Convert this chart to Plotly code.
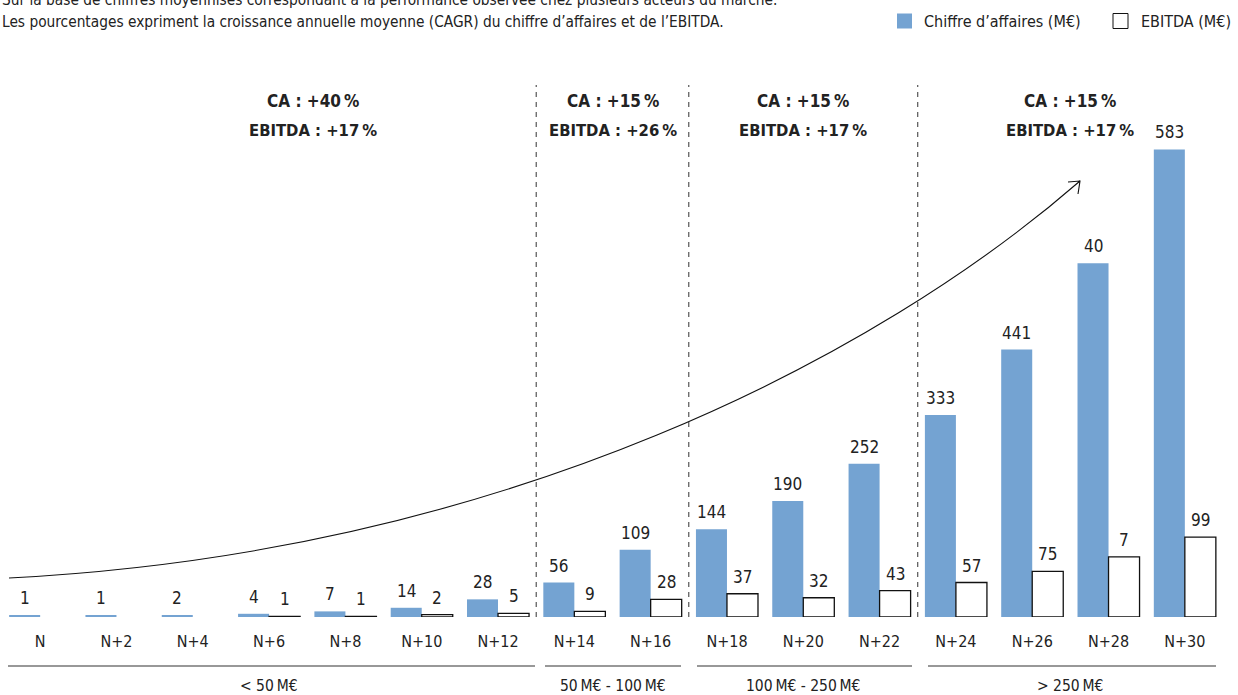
import plotly.graph_objects as go

# ---------------- data ----------------
categories = ["N", "N+2", "N+4", "N+6", "N+8", "N+10", "N+12", "N+14",
              "N+16", "N+18", "N+20", "N+22", "N+24", "N+26", "N+28", "N+30"]
ca_values = [2, 2, 2, 4, 7, 11.5, 22, 43, 84, 109.5, 144.5, 191, 252, 333.5, 441, 583]
ebitda_values = [None, None, None, 0.7, 0.7, 3, 4.5, 7, 22, 29, 24, 33, 43, 57, 75, 99.5]
ca_labels = ["1", "1", "2", "4", "7", "14", "28", "56", "109", "144", "190",
             "252", "333", "441", "40", "583"]
ebitda_labels = ["", "", "", "1", "1", "2", "5", "9", "28", "37", "32",
                 "43", "57", "75", "7", "99"]

series_names = ["Chiffre d’affaires (M€)", "EBITDA (M€)"]

segments = ["< 50\u202fM€", "50\u202fM€ - 100\u202fM€", "100\u202fM€ - 250\u202fM€", "> 250\u202fM€"]
segment_first = [0, 7, 9, 12]
segment_last = [6, 8, 11, 15]
cagr_ca = ["+40\u202f%", "+15\u202f%", "+15\u202f%", "+15\u202f%"]
cagr_ebitda = ["+17\u202f%", "+26\u202f%", "+17\u202f%", "+17\u202f%"]

subtitle_1 = ("Sur la base de chiffres moyennisés correspondant à la performance "
              "observée chez plusieurs acteurs du marché.")
subtitle_2 = ("Les pourcentages expriment la croissance annuelle moyenne (CAGR) "
              "du chiffre d’affaires et de l’EBITDA.")

# ---------------- style ----------------
W, H = 1238, 695
ML, MR, MT, MB = 2, 15, 40, 78
PW, PH = W - ML - MR, H - MT - MB
YMAX = 719.5
FONT = "DejaVu Sans Condensed, DejaVu Sans, sans-serif"
BLUE = "#74A3D2"
TXT = "#222222"
EDGE = "#111111"


def px_x(px):
    return (px - ML) / PW


def px_y(py):
    return (H - MB - py) / PH


fig = go.Figure()
fig.add_trace(go.Bar(
    name=series_names[0], x=categories, y=ca_values,
    marker=dict(color=BLUE, line=dict(width=0)),
))
fig.add_trace(go.Bar(
    name=series_names[1], x=categories, y=ebitda_values,
    marker=dict(color="white", line=dict(color=EDGE, width=1.3)),
))

annotations = []
bar_half = PW / len(categories) * (1 - 0.187) / 4
for i, c in enumerate(categories):
    if ca_labels[i]:
        annotations.append(dict(x=c, y=ca_values[i], xref="x", yref="y", text=ca_labels[i],
                                showarrow=False, xshift=-bar_half, yshift=17,
                                xanchor="center", yanchor="middle",
                                font=dict(size=17, color=TXT, family=FONT)))
    if ebitda_labels[i]:
        annotations.append(dict(x=c, y=ebitda_values[i], xref="x", yref="y", text=ebitda_labels[i],
                                showarrow=False, xshift=bar_half, yshift=17,
                                xanchor="center", yanchor="middle",
                                font=dict(size=17, color=TXT, family=FONT)))

shapes = []
# segment separators (dashed)
for k in range(1, len(segments)):
    shapes.append(dict(type="line", xref="x", yref="paper",
                       x0=segment_first[k] - 0.5, x1=segment_first[k] - 0.5,
                       y0=0, y1=px_y(85),
                       line=dict(color="#333333", width=1, dash="5px,5px")))

group_line_px = [(8, 535), (545, 681), (697, 912), (928, 1216)]
cagr_center = [3.58, 7.5, 10, 13.5]
for k, seg in enumerate(segments):
    x0p, x1p = group_line_px[k]
    shapes.append(dict(type="line", xref="paper", yref="paper",
                       x0=px_x(x0p), x1=px_x(x1p), y0=px_y(666), y1=px_y(666),
                       line=dict(color="#333333", width=1.2)))
    annotations.append(dict(x=(segment_first[k] + segment_last[k]) / 2, xref="x",
                            y=px_y(685.5), yref="paper", text=seg, showarrow=False,
                            xanchor="center", yanchor="middle",
                            font=dict(size=15.5, color=TXT, family=FONT)))
    annotations.append(dict(x=cagr_center[k], xref="x", y=px_y(101), yref="paper",
                            text="<b>CA : " + cagr_ca[k] + "</b>", showarrow=False,
                            xanchor="center", yanchor="middle",
                            font=dict(size=17, color=TXT, family=FONT)))
    annotations.append(dict(x=cagr_center[k], xref="x", y=px_y(130), yref="paper",
                            text="<b>EBITDA : " + cagr_ebitda[k] + "</b>", showarrow=False,
                            xanchor="center", yanchor="middle",
                            font=dict(size=16.5, color=TXT, family=FONT)))

# growth arrow (cubic Bezier in paper coordinates)
P0, P1, P2, P3 = (9, 578), (509, 552), (880, 355), (1080, 181)
H1, H2 = (1068, 182), (1078, 194)


def pt(p):
    return f"{px_x(p[0]):.5f},{px_y(p[1]):.5f}"


path = (f"M {pt(P0)} C {pt(P1)} {pt(P2)} {pt(P3)} "
        f"M {pt(H1)} L {pt(P3)} L {pt(H2)}")
shapes.append(dict(type="path", xref="paper", yref="paper", path=path,
                   line=dict(color=EDGE, width=1.1)))

# legend (drawn as swatches + labels)
legend_boxes = [(897, 912), (1113, 1128)]
legend_text_x = [922, 1139]
legend_fill = [BLUE, "white"]
legend_line = [dict(width=0), dict(color=EDGE, width=1)]
for k in range(2):
    shapes.append(dict(type="rect", xref="paper", yref="paper",
                       x0=px_x(legend_boxes[k][0]), x1=px_x(legend_boxes[k][1]),
                       y0=px_y(28.5), y1=px_y(13.5),
                       fillcolor=legend_fill[k], line=legend_line[k]))
    annotations.append(dict(x=px_x(legend_text_x[k]), xref="paper", xanchor="left",
                            y=px_y(21), yref="paper", yanchor="middle",
                            text=series_names[k], showarrow=False,
                            font=dict(size=16, color=TXT, family=FONT)))

# subtitle
annotations.append(dict(x=px_x(0), xref="paper", xanchor="left", y=px_y(0), yref="paper",
                        yanchor="middle", text=subtitle_1, showarrow=False,
                        font=dict(size=15.3, color=TXT, family=FONT)))
annotations.append(dict(x=px_x(0), xref="paper", xanchor="left", y=px_y(22), yref="paper",
                        yanchor="middle", text=subtitle_2, showarrow=False,
                        font=dict(size=15.3, color=TXT, family=FONT)))

fig.update_layout(
    width=W, height=H,
    margin=dict(l=ML, r=MR, t=MT, b=MB, pad=0),
    paper_bgcolor="white", plot_bgcolor="white",
    barmode="group", bargap=0.187, bargroupgap=0,
    font=dict(family=FONT, color=TXT, size=16),
    showlegend=False,
    xaxis=dict(type="category", categoryorder="array", categoryarray=categories,
               showgrid=False, showline=False, zeroline=False, ticks="",
               tickfont=dict(size=16, color=TXT, family=FONT), ticklabelstandoff=13,
               range=[-0.5, len(categories) - 0.5], fixedrange=True),
    yaxis=dict(range=[0, YMAX], visible=False, showgrid=False, zeroline=False,
               fixedrange=True),
    annotations=annotations,
    shapes=shapes,
)

fig.write_html("out.html", config={"displayModeBar": False},
               post_script="document.body.style.margin='0';")
